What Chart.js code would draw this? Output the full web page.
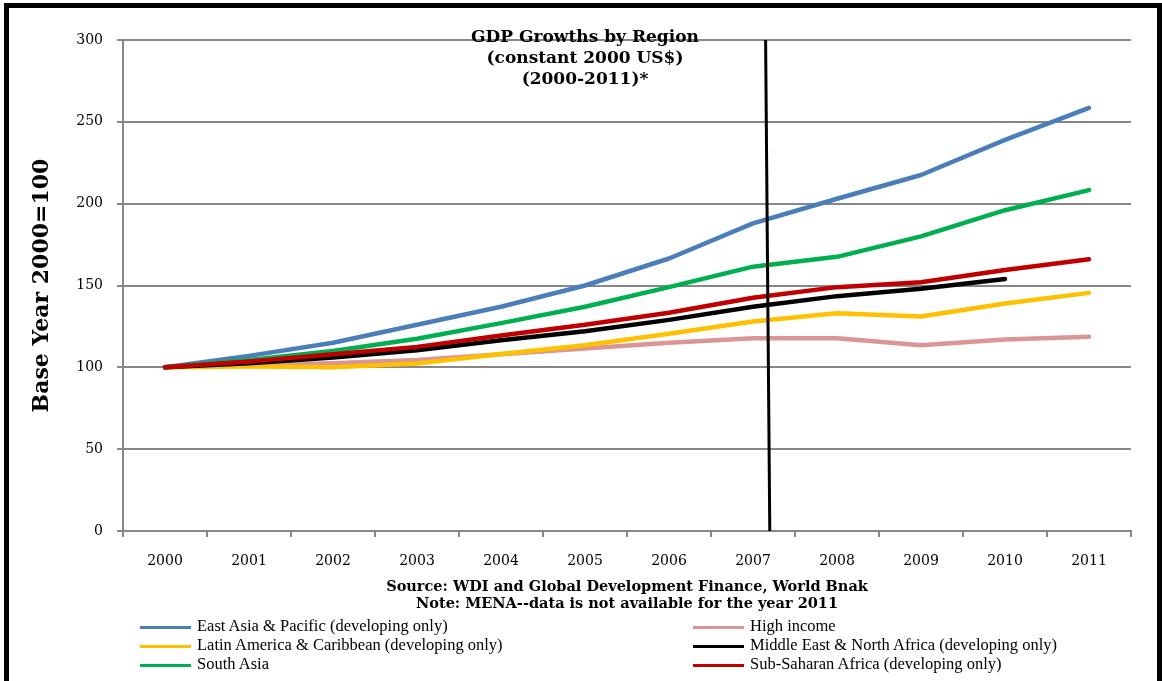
<!DOCTYPE html>
<html lang="en">

<head>
    <meta charset="UTF-8">
    <title>GDP Growths by Region</title>
    <script src="https://cdn.jsdelivr.net/npm/chart.js"></script>
    <style>
        html, body {
            margin: 0;
            padding: 0;
            background: #fff;
            overflow: hidden;
        }

        body {
            width: 1162px;
            height: 681px;
            position: relative;
        }

        #gdpChart {
            position: absolute;
            left: 0;
            top: 0;
        }

        #frame {
            position: absolute;
            left: 4px;
            top: 3px;
            width: 1148px;
            height: 800px;
            border: 5px solid #000;
            pointer-events: none;
        }

        #title {
            position: absolute;
            left: 0;
            top: 26px;
            width: 1170px;
            text-align: center;
            font: bold 17px 'DejaVu Serif', serif;
            line-height: 21px;
            color: #000;
        }

        .legend-item {
            position: absolute;
            height: 19px;
            line-height: 19px;
            white-space: nowrap;
            font: 16.5px 'Liberation Serif', serif;
            color: #000;
        }

        .legend-item .swatch {
            display: inline-block;
            width: 51px;
            height: 3px;
            vertical-align: middle;
            margin-right: 6px;
        }
    </style>
</head>

<body>
    <canvas id="gdpChart" width="1162" height="681"></canvas>

    <div id="title">GDP Growths by Region<br>(constant 2000 US$)<br>(2000-2011)*</div>

    <!-- legend is built from the chart datasets below -->
    <div id="legend"></div>

    <div id="frame"></div>

    <script>
        // Data (index, base year 2000 = 100)
        const years = ['2000', '2001', '2002', '2003', '2004', '2005', '2006', '2007', '2008', '2009', '2010', '2011'];

        const eastAsia = [100, 107, 115, 126, 137, 150, 166.5, 188, 203, 217.5, 239, 258.5];
        const highIncome = [100, 101.5, 102.5, 104.5, 108, 111.5, 115, 117.7, 117.7, 113.5, 117, 118.7];
        const latinAmerica = [100, 100.5, 100, 102.4, 108.2, 113.5, 120.5, 128, 133, 131, 139, 145.5];
        const middleEast = [100, 102.5, 106, 110.5, 116.5, 122, 129, 137, 143.5, 148, 154, null];
        const southAsia = [100, 104.5, 110, 117.5, 127, 137, 149, 161.5, 167.5, 180, 196, 208.3];
        const subSaharan = [100, 103.5, 108, 112.5, 119.5, 126, 133.4, 142.5, 149, 152, 159.5, 166];

        const seriesNames = [
            'East Asia & Pacific (developing only)',
            'High income',
            'Latin America & Caribbean (developing only)',
            'Middle East & North Africa (developing only)',
            'South Asia',
            'Sub-Saharan Africa (developing only)'
        ];
        const seriesColors = ['#4A7EBB', '#DA9694', '#FFC000', '#000000', '#00B050', '#C00000'];
        const seriesData = [eastAsia, highIncome, latinAmerica, middleEast, southAsia, subSaharan];

        // the hand-drawn black divider (category index, value)
        const markerX = [7.15, 7.2];
        const markerY = [300, 0];

        const yTitle = 'Base Year 2000=100';
        const sourceNote = [
            'Source: WDI and Global Development Finance, World Bnak',
            'Note: MENA--data is not available for the year 2011'
        ];

        const gridGray = '#878787';
        const serif = 'DejaVu Serif';

        // draws the vertical divider line on top of the series
        const markerPlugin = {
            id: 'markerLine',
            afterDatasetsDraw(chart) {
                const { ctx, scales: { x, y } } = chart;
                ctx.save();
                ctx.strokeStyle = '#000';
                ctx.lineWidth = 3;
                ctx.beginPath();
                ctx.moveTo(x.getPixelForValue(markerX[0]), y.getPixelForValue(markerY[0]));
                ctx.lineTo(x.getPixelForValue(markerX[1]), y.getPixelForValue(markerY[1]));
                ctx.stroke();
                ctx.restore();
            }
        };

        const datasets = seriesData.map((data, i) => ({
            label: seriesNames[i],
            data: data,
            borderColor: seriesColors[i],
            backgroundColor: seriesColors[i],
            borderWidth: 4.5,
            pointRadius: 0,
            tension: 0,
            fill: false,
            borderCapStyle: 'round',
            borderJoinStyle: 'round',
            order: seriesData.length - i   // later series drawn on top, like Excel
        }));

        const gdpChart = new Chart(document.getElementById('gdpChart').getContext('2d'), {
            type: 'line',
            data: { labels: years, datasets: datasets },
            plugins: [markerPlugin],
            options: {
                responsive: false,
                animation: false,
                layout: { padding: { left: 0, top: 40, right: 31, bottom: 68 } },
                plugins: {
                    legend: { display: false },
                    tooltip: { enabled: false },
                    title: { display: false }
                },
                scales: {
                    x: {
                        offset: true,
                        grid: { offset: true, drawOnChartArea: false, tickLength: 6, color: gridGray, lineWidth: 2 },
                        border: { color: gridGray, width: 2 },
                        ticks: { color: '#000', font: { family: serif, size: 14 }, padding: 16, maxRotation: 0, autoSkip: false },
                        title: {
                            display: true,
                            text: sourceNote,
                            color: '#000',
                            font: { family: serif, size: 14.5, weight: 'bold', lineHeight: 1.2 },
                            padding: { top: 0, bottom: 0 }
                        },
                        afterFit: (scale) => { scale.height = 82; }
                    },
                    y: {
                        min: 0,
                        max: 300,
                        grid: { color: gridGray, lineWidth: 2, tickLength: 6 },
                        border: { color: gridGray, width: 2 },
                        ticks: { stepSize: 50, color: '#000', font: { family: serif, size: 14 }, padding: 14 },
                        title: {
                            display: true,
                            text: yTitle,
                            color: '#000',
                            font: { family: serif, size: 22, weight: 'bold' },
                            padding: { top: 29, bottom: 0 }
                        },
                        afterFit: (scale) => { scale.width = 123; }
                    }
                }
            }
        });

        // two-column legend under the chart
        const legendBox = document.getElementById('legend');
        const colLeft = [140, 693];
        gdpChart.data.datasets.forEach((ds, i) => {
            const item = document.createElement('div');
            item.className = 'legend-item';
            item.style.left = colLeft[i % 2] + 'px';
            item.style.top = (616 + Math.floor(i / 2) * 19) + 'px';
            const sw = document.createElement('span');
            sw.className = 'swatch';
            sw.style.background = ds.borderColor;
            item.appendChild(sw);
            item.appendChild(document.createTextNode(ds.label));
            legendBox.appendChild(item);
        });
    </script>
</body>

</html>
